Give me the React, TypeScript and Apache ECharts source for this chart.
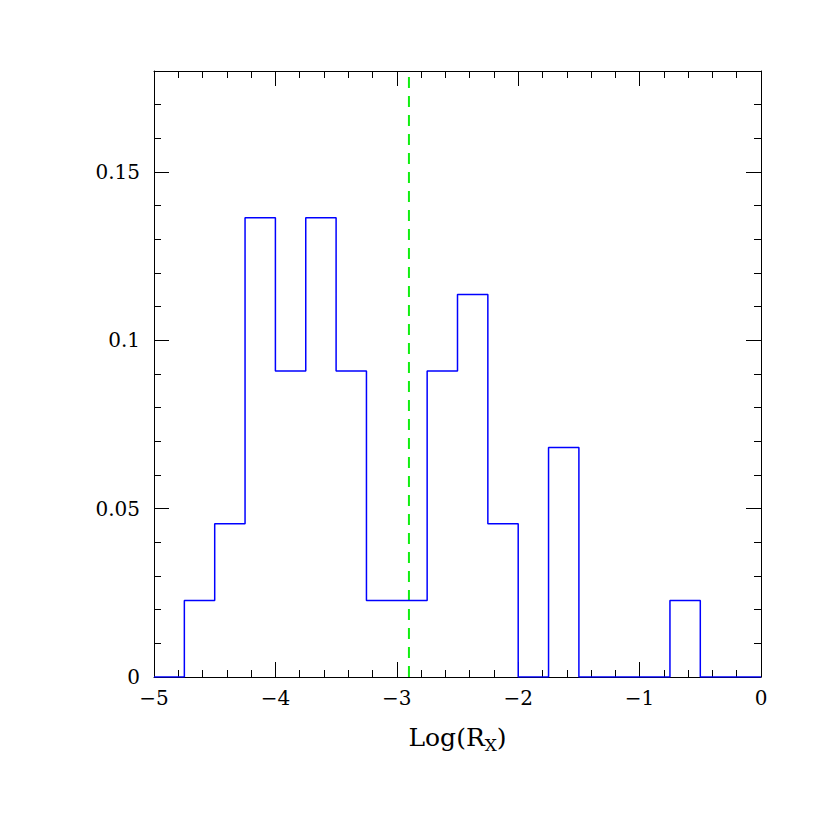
import React, { useEffect, useRef } from "react";
import * as echarts from "echarts";

const binEdges = [-5, -4.75, -4.5, -4.25, -4, -3.75, -3.5, -3.25, -3, -2.75, -2.5, -2.25, -2, -1.75, -1.5, -1.25, -1, -0.75, -0.5, -0.25, 0];
const binValues = [0, 0.0227, 0.0455, 0.1364, 0.0909, 0.1364, 0.0909, 0.0227, 0.0227, 0.0909, 0.1136, 0.0455, 0, 0.0682, 0, 0, 0, 0.0227, 0, 0];
const medianX = -2.9;
const yMax = 0.18;

const FONT = "DejaVu Serif";

export default function App() {
  const ref = useRef<HTMLDivElement>(null);
  useEffect(() => {
    if (!ref.current) return;
    const chart = echarts.init(ref.current, null, { renderer: "svg" });
    const stepData: [number, number][] = binEdges.map((e, i) => [e, i < binValues.length ? binValues[i] : binValues[binValues.length - 1]]);
    const lineColor = "#000";
    const fmtX = (v: number) => (v < 0 ? "\u2212" + Math.abs(v) : String(v));
    const fmtY = (v: number) => (v > 0.16 ? "" : String(Math.round(v * 100) / 100));
    const line = { show: true, onZero: false, lineStyle: { color: lineColor, width: 1 } };
    const noLine = { show: false, onZero: false };
    chart.setOption({
      animation: false,
      grid: { left: 154, right: 69, top: 71, bottom: 153 },
      xAxis: [
        {
          type: "value", min: -5, max: 0, interval: 1, position: "bottom",
          axisLine: line,
          axisTick: { show: true, inside: true, length: 15, lineStyle: { color: lineColor } },
          minorTick: { show: true, splitNumber: 5, length: 7, lineStyle: { color: lineColor } },
          axisLabel: { formatter: fmtX, fontFamily: FONT, fontSize: 20, color: "#000", margin: 11 },
          splitLine: { show: false },
          name: "Log(R{sub|X})",
          nameLocation: "middle",
          nameGap: 45,
          nameTextStyle: {
            fontFamily: FONT, fontSize: 25, color: "#000",
            rich: { sub: { fontFamily: FONT, fontSize: 17, color: "#000", verticalAlign: "bottom", padding: [14, 0, 0, 0] } },
          },
        },
        {
          type: "value", min: -5, max: 0, interval: 1, position: "top",
          axisLine: line,
          axisTick: { show: true, inside: true, length: 15, lineStyle: { color: lineColor } },
          minorTick: { show: true, splitNumber: 5, length: 7, lineStyle: { color: lineColor } },
          axisLabel: { show: false },
          splitLine: { show: false },
        },
      ],
      yAxis: [
        {
          type: "value", min: 0, max: yMax, interval: 0.05, position: "left",
          axisLine: line,
          axisTick: { show: true, inside: true, length: 15, lineStyle: { color: lineColor } },
          axisLabel: { formatter: fmtY, fontFamily: FONT, fontSize: 20, color: "#000", margin: 14 },
          splitLine: { show: false },
        },
        {
          type: "value", min: 0, max: yMax, interval: 0.01, position: "left", offset: 0,
          axisLine: noLine,
          axisTick: { show: true, inside: true, length: 7, lineStyle: { color: lineColor } },
          axisLabel: { show: false },
          splitLine: { show: false },
        },
        {
          type: "value", min: 0, max: yMax, interval: 0.05, position: "right",
          axisLine: line,
          axisTick: { show: true, inside: true, length: 15, lineStyle: { color: lineColor } },
          axisLabel: { show: false },
          splitLine: { show: false },
        },
        {
          type: "value", min: 0, max: yMax, interval: 0.01, position: "right", offset: 0,
          axisLine: noLine,
          axisTick: { show: true, inside: true, length: 7, lineStyle: { color: lineColor } },
          axisLabel: { show: false },
          splitLine: { show: false },
        },
      ],
      series: [
        {
          type: "line",
          xAxisIndex: 0,
          yAxisIndex: 0,
          step: "end",
          data: stepData,
          showSymbol: false,
          symbol: "none",
          lineStyle: { color: "#0000ff", width: 1.5 },
          z: 3,
        },
        {
          type: "line",
          xAxisIndex: 0,
          yAxisIndex: 0,
          data: [[medianX, 0], [medianX, yMax]],
          showSymbol: false,
          symbol: "none",
          lineStyle: { color: "#11ee11", width: 2, type: [11, 8] },
          z: 2,
        },
      ],
    });
    return () => chart.dispose();
  }, []);
  return <div ref={ref} style={{ width: 830, height: 830, position: "absolute", left: 0, top: 0 }} />;
}
